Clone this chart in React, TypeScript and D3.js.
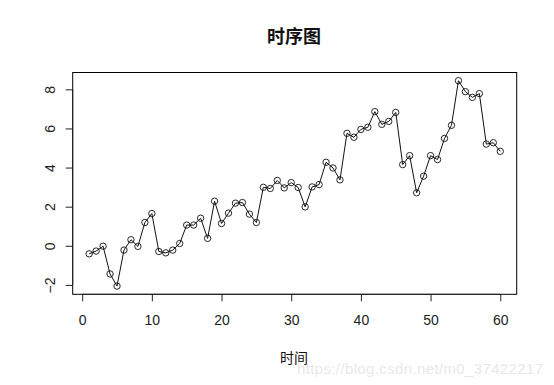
import React, { useEffect, useRef } from 'react';
import * as d3 from 'd3';

// series, t = 1..60
const values = [
  -0.41, -0.27, -0.02, -1.44, -2.06, -0.22, 0.31, -0.03, 1.19, 1.65,
  -0.29, -0.36, -0.22, 0.12, 1.06, 1.06, 1.41, 0.38, 2.28, 1.14,
  1.67, 2.18, 2.21, 1.62, 1.19, 2.99, 2.93, 3.34, 2.96, 3.23,
  2.98, 1.99, 3.01, 3.13, 4.27, 3.98, 3.37, 5.75, 5.55, 5.95,
  6.06, 6.86, 6.21, 6.36, 6.82, 4.15, 4.61, 2.71, 3.56, 4.61,
  4.41, 5.49, 6.16, 8.44, 7.88, 7.59, 7.78, 5.2, 5.27, 4.83,
];
const times = values.map((_, i) => i + 1);
const xTicks = [0, 10, 20, 30, 40, 50, 60];
const yTicks = [-2, 0, 2, 4, 6, 8];

const W = 554;
const H = 385;
const FONT = '"Liberation Sans", Arial, "Noto Sans CJK SC", sans-serif';

const App = () => {
  const ref = useRef<SVGSVGElement>(null);

  useEffect(() => {
    const svg = d3.select(ref.current);
    svg.selectAll('*').remove();

    const left = 72.7, right = 516.7, top = 72.5, bottom = 294.3;

    // R style: extend data range by 4% on each side
    const [x0, x1] = d3.extent(times) as [number, number];
    const [y0, y1] = d3.extent(values) as [number, number];
    const dx = (x1 - x0) * 0.04;
    const dy = (y1 - y0) * 0.04;

    const x = d3.scaleLinear().domain([x0 - dx, x1 + dx]).range([left, right]);
    const y = d3.scaleLinear().domain([y0 - dy, y1 + dy]).range([bottom, top]);

    svg.append('rect')
      .attr('x', left).attr('y', top)
      .attr('width', right - left).attr('height', bottom - top)
      .attr('fill', 'none').attr('stroke', '#000').attr('stroke-width', 1);

    const xAxis = svg.append('g')
      .attr('transform', `translate(0,${bottom})`)
      .call(d3.axisBottom(x).tickValues(xTicks).tickSize(7).tickPadding(14).tickFormat(d3.format('d')));
    xAxis.select('.domain').attr('d', `M${x(0)},0H${x(60)}`);

    const yAxis = svg.append('g')
      .attr('transform', `translate(${left},0)`)
      .call(d3.axisLeft(y).tickValues(yTicks).tickSize(7).tickPadding(0).tickFormat(d3.format('d')));
    yAxis.select('.domain').attr('d', `M0,${y(-2)}V${y(8)}`);
    yAxis.selectAll('.tick text')
      .attr('x', 0).attr('dy', null)
      .attr('transform', 'translate(-23,0) rotate(-90)')
      .attr('text-anchor', 'middle')
      .attr('dominant-baseline', 'central');

    svg.selectAll('.tick text')
      .attr('font-family', FONT)
      .attr('font-size', 14)
      .attr('fill', '#222');
    svg.selectAll('.tick line, .domain').attr('stroke', '#222');

    const line = d3.line<number>()
      .x((_, i) => x(times[i]))
      .y((d) => y(d));

    svg.append('path')
      .datum(values)
      .attr('d', line)
      .attr('fill', 'none')
      .attr('stroke', '#111')
      .attr('stroke-width', 1);

    svg.append('g')
      .selectAll('circle')
      .data(values)
      .enter()
      .append('circle')
      .attr('cx', (_, i) => x(times[i]))
      .attr('cy', (d) => y(d))
      .attr('r', 3.2)
      .attr('fill', 'none')
      .attr('stroke', '#111')
      .attr('stroke-width', 0.9);

    svg.append('text')
      .attr('x', 294).attr('y', 43)
      .attr('text-anchor', 'middle')
      .attr('font-family', '"Noto Sans CJK SC", sans-serif')
      .attr('font-size', 18)
      .attr('font-weight', 'bold')
      .attr('fill', '#111')
      .text('时序图');

    svg.append('text')
      .attr('x', 294).attr('y', 363)
      .attr('text-anchor', 'middle')
      .attr('font-family', '"Noto Sans CJK SC", sans-serif')
      .attr('font-size', 14)
      .attr('fill', '#111')
      .text('时间');

    // faint watermark, overlapping the axis title as in the reference
    svg.append('text')
      .attr('x', 297).attr('y', 374)
      .attr('font-family', FONT)
      .attr('font-size', 15)
      .attr('textLength', 246)
      .attr('fill', '#e2e2e2')
      .attr('fill-opacity', 0.8)
      .text('https://blog.csdn.net/m0_37422217');
  }, []);

  return (
    <svg
      ref={ref}
      width={W}
      height={H}
      style={{ position: 'absolute', left: 0, top: 0, background: '#fff' }}
    />
  );
};

export default App;
